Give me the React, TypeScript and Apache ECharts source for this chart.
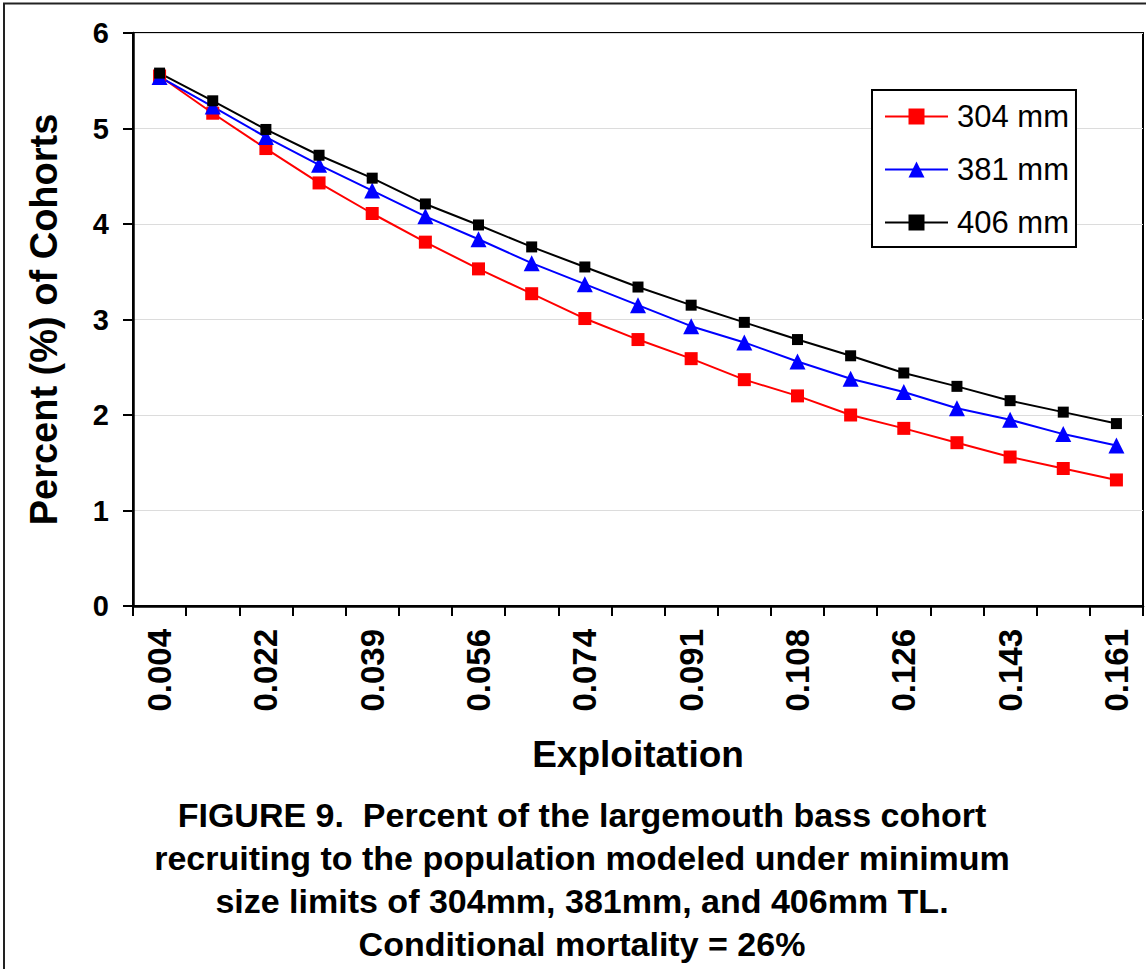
import React, { useEffect, useRef } from "react";
import * as echarts from "echarts";

const categories = [
  "0.004", "0.013", "0.022", "0.030", "0.039", "0.048", "0.056", "0.065", "0.074", "0.083",
  "0.091", "0.100", "0.108", "0.117", "0.126", "0.134", "0.143", "0.152", "0.161",
];
const seriesNames = ["304 mm", "381 mm", "406 mm"];
const values304 = [5.55, 5.16, 4.79, 4.43, 4.11, 3.81, 3.53, 3.27, 3.01, 2.79, 2.59, 2.37, 2.2, 2.0, 1.86, 1.71, 1.56, 1.44, 1.32];
const values381 = [5.54, 5.23, 4.91, 4.62, 4.35, 4.08, 3.84, 3.59, 3.37, 3.15, 2.93, 2.76, 2.56, 2.38, 2.24, 2.07, 1.95, 1.8, 1.68];
const values406 = [5.58, 5.29, 4.99, 4.72, 4.48, 4.21, 3.99, 3.76, 3.55, 3.34, 3.15, 2.97, 2.79, 2.62, 2.44, 2.3, 2.15, 2.03, 1.91];
const yMin = 0;
const yMax = 6;
const yInterval = 1;
const xAxisTitle = "Exploitation";
const yAxisTitle = "Percent (%) of Cohorts";
const captionLines = [
  "FIGURE 9.  Percent of the largemouth bass cohort",
  "recruiting to the population modeled under minimum",
  "size limits of 304mm, 381mm, and 406mm TL.",
  "Conditional mortality = 26%",
];

const FONT = '"Liberation Sans", Arial, Helvetica, sans-serif';

export default function App() {
  const ref = useRef<HTMLDivElement>(null);
  useEffect(() => {
    if (!ref.current) return;
    const chart = echarts.init(ref.current, null, { renderer: "svg" });
    const mk = (name: string, data: number[], color: string, symbol: string, size: number) => ({
      name,
      type: "line",
      data,
      symbol,
      symbolSize: size,
      showAllSymbol: true,
      itemStyle: { color },
      lineStyle: { color, width: 2 },
      emphasis: { disabled: true },
    });
    chart.setOption({
      animation: false,
      backgroundColor: "#ffffff",
      textStyle: { fontFamily: FONT },
      grid: {
        left: 133,
        top: 33,
        right: 3,
        bottom: 363,
        show: true,
        borderColor: "#000",
        borderWidth: 2,
        containLabel: false,
      },
      legend: {
        orient: "vertical",
        left: 872,
        top: 90,
        backgroundColor: "#fff",
        borderColor: "#000",
        borderWidth: 2,
        padding: [11, 7, 9, 12],
        itemWidth: 63,
        itemHeight: 20,
        itemGap: 22,
        textStyle: { fontFamily: FONT, fontSize: 31, color: "#000", padding: [0, 0, 0, 4] },
        data: seriesNames,
      },
      xAxis: {
        type: "category",
        data: categories,
        boundaryGap: true,
        name: xAxisTitle,
        nameLocation: "middle",
        nameGap: 130,
        nameTextStyle: { fontFamily: FONT, fontSize: 37, fontWeight: "bold", color: "#000" },
        axisLine: { lineStyle: { color: "#000", width: 2.5 } },
        axisTick: { show: true, interval: 0, length: 10, inside: false, lineStyle: { color: "#000", width: 2 } },
        axisLabel: {
          interval: 1,
          rotate: 90,
          margin: 23,
          fontFamily: FONT,
          fontSize: 33,
          fontWeight: "bold",
          color: "#000",
        },
        splitLine: { show: false },
      },
      yAxis: {
        type: "value",
        min: yMin,
        max: yMax,
        interval: yInterval,
        name: yAxisTitle,
        nameLocation: "middle",
        nameGap: 70,
        nameTextStyle: { fontFamily: FONT, fontSize: 38, fontWeight: "bold", color: "#000" },
        axisLine: { show: true, lineStyle: { color: "#000", width: 2.5 } },
        axisTick: { show: true, length: 10, lineStyle: { color: "#000", width: 2 } },
        axisLabel: { margin: 24, fontFamily: FONT, fontSize: 29, fontWeight: "bold", color: "#000" },
        splitLine: { show: true, lineStyle: { color: "#dcdcdc", width: 1 } },
      },
      graphic: [
        {
          type: "rect",
          shape: { x: 4, y: 3.5, width: 1200, height: 1100 },
          style: { fill: "none", stroke: "#222", lineWidth: 2 },
          silent: true,
          z: 100,
        },
        {
          type: "text",
          x: 582,
          y: 793,
          style: {
            text: captionLines.join("\n"),
            align: "center",
            verticalAlign: "top",
            fontFamily: FONT,
            fontSize: 34,
            fontWeight: "bold",
            lineHeight: 43,
            fill: "#000",
          },
          silent: true,
        },
      ],
      series: [
        mk(seriesNames[0], values304, "#ff0000", "rect", 13),
        mk(seriesNames[1], values381, "#0000ff", "triangle", 16),
        mk(seriesNames[2], values406, "#000000", "rect", 11),
      ],
    });
    return () => chart.dispose();
  }, []);
  return (
    <div
      ref={ref}
      style={{ position: "fixed", left: 0, top: 0, width: 1146, height: 969, background: "#fff" }}
    />
  );
}
